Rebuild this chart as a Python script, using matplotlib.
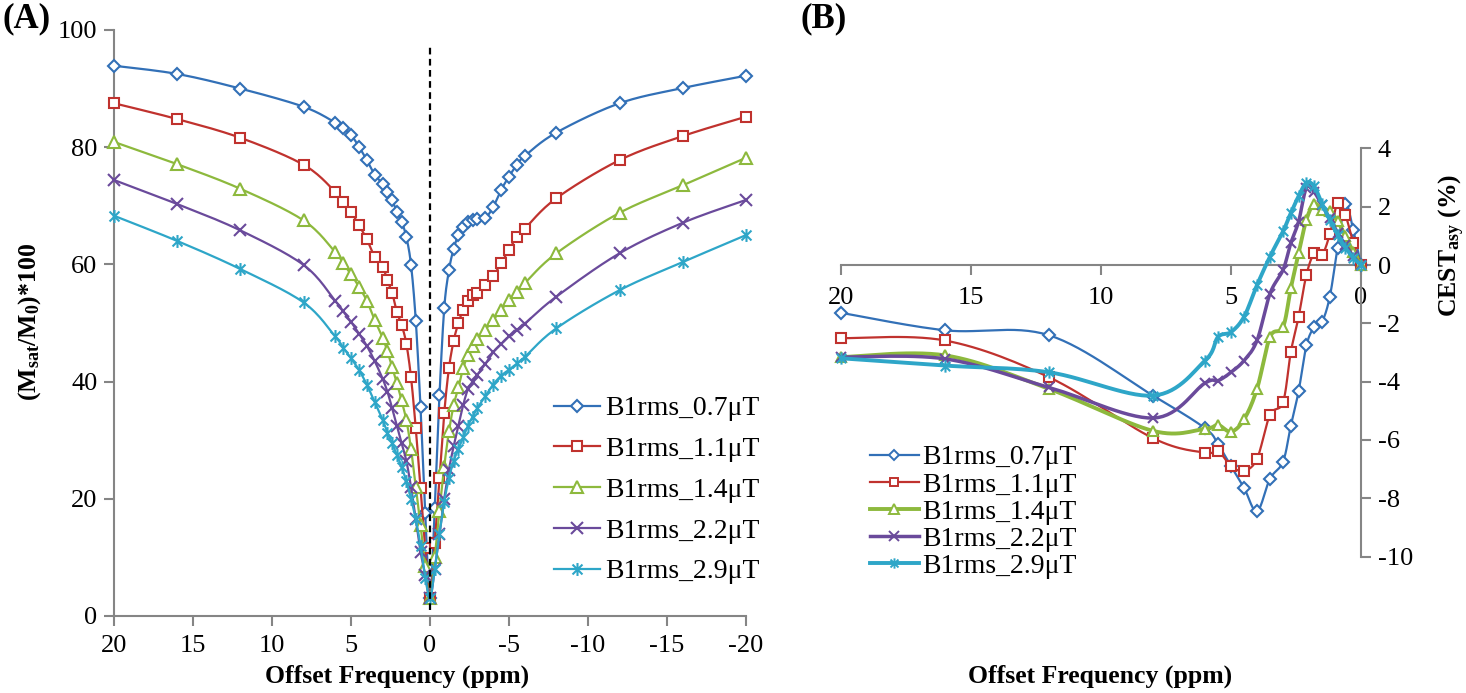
import numpy as np
import matplotlib
matplotlib.use('Agg')
import matplotlib.pyplot as plt
from matplotlib.path import Path
from matplotlib.lines import Line2D

plt.rcParams['font.family'] = ['Liberation Serif', 'DejaVu Serif']
plt.rcParams['mathtext.fontset'] = 'custom'
plt.rcParams['mathtext.rm'] = 'Liberation Serif:bold'
plt.rcParams['mathtext.it'] = 'Liberation Serif:bold'
plt.rcParams['mathtext.bf'] = 'Liberation Serif:bold'
plt.rcParams['axes.unicode_minus'] = False

# ---------------- data ----------------
labels = ['B1rms_0.7\u03bcT', 'B1rms_1.1\u03bcT', 'B1rms_1.4\u03bcT',
          'B1rms_2.2\u03bcT', 'B1rms_2.9\u03bcT']

offsets_z = [20, 16, 12, 8, 6, 5.5, 5, 4.5, 4, 3.5, 3, 2.7, 2.4, 2.1, 1.8, 1.5,
             1.2, 0.9, 0.6, 0.3, 0, -0.3, -0.6, -0.9, -1.2, -1.5, -1.8, -2.1,
             -2.4, -2.7, -3, -3.5, -4, -4.5, -5, -5.5, -6, -8, -12, -16, -20]

z_07 = [93.9, 92.5, 90.0, 86.9, 84.2, 83.2, 82.1, 80.1, 77.8, 75.3, 73.8, 72.4,
        71.0, 69.0, 67.3, 64.7, 59.9, 50.4, 35.6, 17.5, 3.0,
        18.5, 37.7, 52.5, 59.0, 62.7, 65.0, 66.4, 67.2, 67.5, 67.7, 67.9, 69.8,
        72.7, 75.0, 77.0, 78.5, 82.5, 87.5, 90.1, 92.2]
z_11 = [87.5, 84.8, 81.6, 77.0, 72.4, 70.7, 69.0, 66.7, 64.3, 61.3, 59.6, 57.3,
        55.2, 51.9, 49.7, 46.5, 40.7, 32.0, 21.8, 11.6, 3.0,
        12.5, 23.5, 34.6, 42.3, 47.0, 50.0, 52.3, 53.8, 54.7, 55.2, 56.4, 58.0,
        60.2, 62.5, 64.7, 66.1, 71.3, 77.8, 81.9, 85.2]
z_14 = [80.9, 77.1, 72.9, 67.5, 62.1, 60.2, 58.3, 56.2, 53.8, 50.5, 47.5, 45.2,
        42.5, 39.8, 36.8, 33.5, 28.5, 22.0, 15.5, 8.5, 3.0,
        10.0, 18.0, 25.5, 31.5, 36.0, 39.0, 42.3, 44.5, 46.0, 47.2, 48.8, 50.5,
        52.2, 53.9, 55.3, 56.8, 61.9, 68.8, 73.5, 78.2]
z_22 = [74.4, 70.3, 65.8, 59.9, 53.8, 52.0, 50.2, 48.2, 46.1, 43.5, 40.5, 38.3,
        35.5, 32.5, 29.5, 26.5, 22.0, 16.5, 11.0, 7.0, 3.0,
        8.0, 14.0, 20.0, 25.0, 29.0, 32.5, 36.0, 38.7, 40.0, 41.2, 43.0, 45.0,
        46.4, 47.7, 48.8, 49.9, 54.5, 61.9, 67.1, 71.0]
z_29 = [68.3, 64.0, 59.2, 53.5, 47.7, 45.8, 44.0, 42.0, 39.5, 36.5, 33.5, 31.3,
        29.5, 27.5, 25.5, 23.0, 20.0, 16.5, 12.0, 6.5, 3.0,
        8.0, 14.0, 19.5, 23.5, 26.5, 28.5, 30.5, 32.5, 34.0, 35.5, 37.5, 39.5,
        41.0, 42.0, 43.1, 44.2, 49.1, 55.6, 60.4, 65.0]

offsets_asy = [20, 16, 12, 8, 6, 5.5, 5, 4.5, 4, 3.5, 3, 2.7, 2.4, 2.1, 1.8,
               1.5, 1.2, 0.9, 0.6, 0.3, 0]
asy_07 = [-1.64, -2.24, -2.41, -4.48, -5.6, -6.15, -6.9, -7.64, -8.45, -7.33,
          -6.75, -5.52, -4.33, -2.76, -2.13, -1.95, -1.09, 0.6, 2.1, 1.2, 0.0]
asy_11 = [-2.51, -2.59, -3.85, -5.94, -6.44, -6.38, -6.9, -7.06, -6.65, -5.14,
          -4.71, -2.99, -1.78, -0.34, 0.40, 0.34, 1.05, 2.12, 1.72, 0.75, 0.0]
asy_14 = [-3.16, -3.1, -4.25, -5.69, -5.62, -5.49, -5.72, -5.3, -4.25, -2.47,
          -2.13, -0.8, 0.40, 1.55, 2.1, 1.9, 1.85, 1.5, 1.0, 0.45, 0.0]
asy_22 = [-3.16, -3.22, -4.2, -5.25, -4.05, -3.97, -3.68, -3.28, -2.59, -0.98,
          -0.17, 0.75, 1.49, 2.65, 2.5, 2.05, 1.6, 1.1, 0.7, 0.3, 0.0]
asy_29 = [-3.2, -3.45, -3.68, -4.48, -3.28, -2.47, -2.30, -1.78, -0.69, 0.29,
          1.15, 1.78, 2.36, 2.82, 2.7, 2.1, 1.55, 1.03, 0.6, 0.25, 0.0]

z_series = [z_07, z_11, z_14, z_22, z_29]
asy_series = [asy_07, asy_11, asy_14, asy_22, asy_29]

# ---------------- styles ----------------
colors = ['#3270B7', '#C0322E', '#8DB93D', '#6A4A9B', '#2EA6C8']
star = Path([(-1, -1), (1, 1), (-1, 1), (1, -1), (0, -1.3), (0, 1.3)],
            [Path.MOVETO, Path.LINETO] * 3)
markers = ['D', 's', '^', 'x', star]
msizes = [6.2, 7.8, 8.3, 8.3, 9.3]
lw_left = [1.6, 1.6, 1.6, 1.6, 1.6]
lw_right = [1.6, 1.6, 2.8, 2.5, 2.8]

W, H = 1466, 693
fig = plt.figure(figsize=(W / 100, H / 100), dpi=100)


def fx(px):
    return px / W


def fy(py):
    return 1 - py / H


def smooth(x, y, sx, sy, n=16):
    P = np.column_stack([np.asarray(x, float) * sx, np.asarray(y, float) * sy])
    Pe = np.vstack([P[0], P, P[-1]])
    t = np.linspace(0, 1, n)[:, None]
    out = [P[:1]]
    for i in range(len(P) - 1):
        p0, p1, p2, p3 = Pe[i], Pe[i + 1], Pe[i + 2], Pe[i + 3]
        b1 = p1 + (p2 - p0) / 6
        b2 = p2 - (p3 - p1) / 6
        seg = ((1 - t) ** 3) * p1 + 3 * ((1 - t) ** 2) * t * b1 \
            + 3 * (1 - t) * t ** 2 * b2 + t ** 3 * p2
        out.append(seg[1:])
    S = np.vstack(out)
    return S[:, 0] / sx, S[:, 1] / sy


gray = '#858585'
tick_fs = 19
leg_fs = 20

# ---------------- panel A ----------------
axA = fig.add_axes([fx(114), fy(616), fx(746) - fx(114), fy(30) - fy(616)])
for i, ys in enumerate(z_series):
    xs_s, ys_s = smooth(offsets_z, ys, 15.8, 5.86)
    axA.plot(xs_s, ys_s, color=colors[i], lw=lw_left[i], zorder=3 + i,
             clip_on=False)
    axA.plot(offsets_z, ys, linestyle='none', marker=markers[i],
             ms=msizes[i], mfc='white', mec=colors[i], mew=1.5,
             zorder=3 + i, clip_on=False)
axA.plot([0, 0], [1, 97.5], color='black', lw=1.6, ls=(0, (3, 2)), zorder=10)
axA.set_xlim(20, -20)
axA.set_ylim(0, 100)
axA.set_xticks([20, 15, 10, 5, 0, -5, -10, -15, -20])
axA.set_yticks([0, 20, 40, 60, 80, 100])
for s in ['top', 'right']:
    axA.spines[s].set_visible(False)
for s in ['left', 'bottom']:
    axA.spines[s].set_color(gray)
    axA.spines[s].set_linewidth(1.5)
axA.tick_params(axis='both', direction='out', length=7, width=1.5,
                color=gray, labelsize=tick_fs, pad=5)
axA.tick_params(axis='x', pad=7)
axA.patch.set_alpha(0)

handlesA = [Line2D([], [], color=colors[i], lw=lw_left[i], marker=markers[i],
                   ms=msizes[i], mfc='white', mec=colors[i], mew=1.5)
            for i in range(5)]
fig.legend(handlesA, labels, loc='upper left',
           bbox_to_anchor=(fx(554), fy(396)), frameon=False, fontsize=leg_fs,
           handlelength=1.65, handletextpad=0.2, labelspacing=0.55,
           borderpad=0, borderaxespad=0, numpoints=1)

fig.text(fx(397), fy(676), 'Offset Frequency (ppm)', ha='center',
         va='center', fontsize=18.5, fontweight='bold')
fig.text(fx(30), fy(322), r'(M$_{\rm sat}$/M$_{\rm 0}$)*100', rotation=90,
         ha='center', va='center', fontsize=18.5, fontweight='bold')
fig.text(fx(2), fy(19), '(A)', ha='left', va='center', fontsize=25,
         fontweight='bold')

# ---------------- panel B ----------------
axB = fig.add_axes([fx(841), fy(556.5), fx(1361) - fx(841),
                    fy(148.4) - fy(556.5)])
for i, ys in enumerate(asy_series):
    xs_s, ys_s = smooth(offsets_asy, ys, 26.0, 29.15)
    axB.plot(xs_s, ys_s, color=colors[i], lw=lw_right[i], zorder=3 + i,
             clip_on=False)
    axB.plot(offsets_asy, ys, linestyle='none', marker=markers[i],
             ms=msizes[i] * 0.95, mfc='white', mec=colors[i], mew=1.5,
             zorder=3 + i, clip_on=False)
axB.set_xlim(20, 0)
axB.set_ylim(-10, 4)
axB.set_xticks([20, 15, 10, 5, 0])
axB.set_yticks([-10, -8, -6, -4, -2, 0, 2, 4])
axB.spines['left'].set_visible(False)
axB.spines['top'].set_visible(False)
axB.spines['bottom'].set_position(('data', 0))
for s in ['right', 'bottom']:
    axB.spines[s].set_color(gray)
    axB.spines[s].set_linewidth(1.5)
axB.yaxis.tick_right()
axB.tick_params(axis='both', direction='out', length=7, width=1.5,
                color=gray, labelsize=tick_fs, pad=5)
axB.tick_params(axis='x', pad=9)
axB.patch.set_alpha(0)

handlesB = [Line2D([], [], color=colors[i], lw=lw_right[i], marker=markers[i],
                   ms=msizes[i] * 0.8, mfc='white', mec=colors[i], mew=1.4)
            for i in range(5)]
fig.legend(handlesB, labels, loc='upper left',
           bbox_to_anchor=(fx(870), fy(445)), frameon=False, fontsize=leg_fs,
           handlelength=1.75, handletextpad=0.12, labelspacing=0.06,
           borderpad=0, borderaxespad=0, numpoints=1)

fig.text(fx(1100), fy(676), 'Offset Frequency (ppm)', ha='center',
         va='center', fontsize=18.5, fontweight='bold')
fig.text(fx(1452), fy(245), r'CEST$_{\rm asy}$ (%)', rotation=90,
         ha='center', va='center', fontsize=18.5, fontweight='bold')
fig.text(fx(800), fy(19), '(B)', ha='left', va='center', fontsize=25,
         fontweight='bold')

fig.savefig('out.png', dpi=100)
